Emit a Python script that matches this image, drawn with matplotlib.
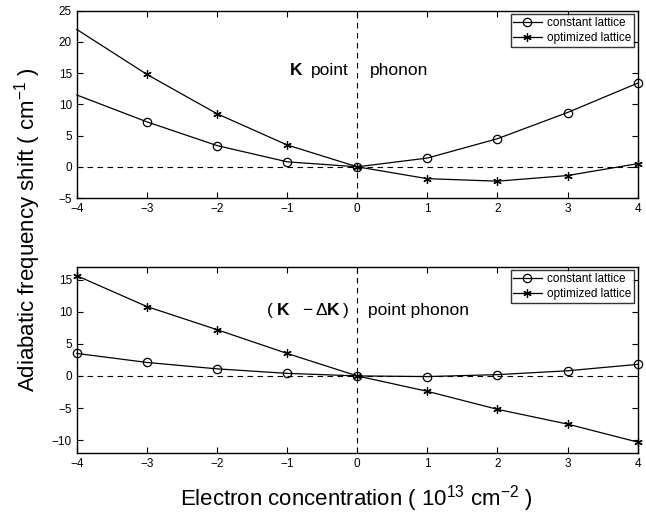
import matplotlib
matplotlib.use("Agg")
import matplotlib.pyplot as plt

plt.rcParams["font.family"] = ["Liberation Sans", "DejaVu Sans"]
plt.rcParams["mathtext.fontset"] = "custom"
plt.rcParams["mathtext.rm"] = "Liberation Sans"

n = [-4, -3, -2, -1, 0, 1, 2, 3, 4]

# K point phonon
k_const = [11.5, 7.2, 3.4, 0.8, 0.0, 1.4, 4.5, 8.7, 13.4]
k_opt = [22.0, 14.8, 8.5, 3.5, 0.0, -1.9, -2.3, -1.4, 0.5]

# (K - dK) point phonon
kd_const = [3.5, 2.1, 1.1, 0.4, 0.0, -0.1, 0.2, 0.8, 1.8]
kd_opt = [15.6, 10.8, 7.2, 3.5, 0.0, -2.4, -5.2, -7.5, -10.3]

fig = plt.figure(figsize=(6.46, 5.13), dpi=100)
ax1 = fig.add_axes([0.119, 0.614, 0.868, 0.365])
ax2 = fig.add_axes([0.119, 0.117, 0.868, 0.363])

lw = 0.9
ms = 6
star = (6, 2, 0)

def style(ax, ylim, yticks):
    ax.set_xlim(-4, 4)
    ax.set_ylim(*ylim)
    ax.set_xticks(n)
    ax.set_yticks(yticks)
    ax.set_xticklabels([str(v).replace("-", "\u2212") for v in n])
    ax.set_yticklabels([str(v).replace("-", "\u2212") for v in yticks])
    ax.tick_params(direction="in", top=True, right=True, labelsize=8.5, length=4, width=0.8)
    for s in ax.spines.values():
        s.set_linewidth(1.0)
    ax.axhline(0, color="k", ls=(0, (5, 4)), lw=0.8)
    ax.axvline(0, color="k", ls=(0, (5, 4)), lw=0.8)

def legend(ax):
    leg = ax.legend(loc="upper right", fontsize=8.5, frameon=True, fancybox=False,
                    edgecolor="k", handlelength=2.4, borderpad=0.2, labelspacing=0.3,
                    handletextpad=0.5, borderaxespad=0.3)
    leg.get_frame().set_linewidth(1.0)

# top panel
ax1.plot(n, k_const, "k-", lw=lw, marker="o", mfc="none", ms=ms, mew=0.9,
         markevery=list(range(1, 9)), label="constant lattice", clip_on=False)
ax1.plot(n, k_opt, "k-", lw=lw, marker=star, ms=ms, mew=0.9,
         markevery=list(range(1, 9)), label="optimized lattice", clip_on=False)
style(ax1, (-5, 25), [-5, 0, 5, 10, 15, 20, 25])
fs = 12.5
ax1.text(-0.96, 15.5, "K", fontsize=fs, fontweight="bold", ha="left", va="center")
ax1.text(-0.66, 15.5, "point", fontsize=fs, ha="left", va="center")
ax1.text(0.18, 15.5, "phonon", fontsize=fs, ha="left", va="center")
legend(ax1)

# bottom panel
ax2.plot(n, kd_const, "k-", lw=lw, marker="o", mfc="none", ms=ms, mew=0.9,
         label="constant lattice", clip_on=False)
ax2.plot(n, kd_opt, "k-", lw=lw, marker=star, ms=ms, mew=0.9,
         label="optimized lattice", clip_on=False)
style(ax2, (-12, 17), [-10, -5, 0, 5, 10, 15])
ty = 10.2
ax2.text(-1.29, ty, "(", fontsize=fs, ha="left", va="center")
ax2.text(-1.15, ty, "K", fontsize=fs, fontweight="bold", ha="left", va="center")
ax2.text(-0.78, ty, "\u2212", fontsize=fs, ha="left", va="center")
ax2.text(-0.6, ty, "\u0394", fontsize=fs, ha="left", va="center")
ax2.text(-0.43, ty, "K", fontsize=fs, fontweight="bold", ha="left", va="center")
ax2.text(-0.2, ty, ")", fontsize=fs, ha="left", va="center")
ax2.text(0.15, ty, "point phonon", fontsize=fs, ha="left", va="center")
legend(ax2)

fig.text(0.042, 0.553, "Adiabatic frequency shift ( cm$^{-1}$ )", rotation=90,
         fontsize=16, ha="center", va="center")
fig.text(0.552, 0.028, "Electron concentration ( 10$^{13}$ cm$^{-2}$ )",
         fontsize=16, ha="center", va="center")

fig.savefig("out.png", dpi=100)
